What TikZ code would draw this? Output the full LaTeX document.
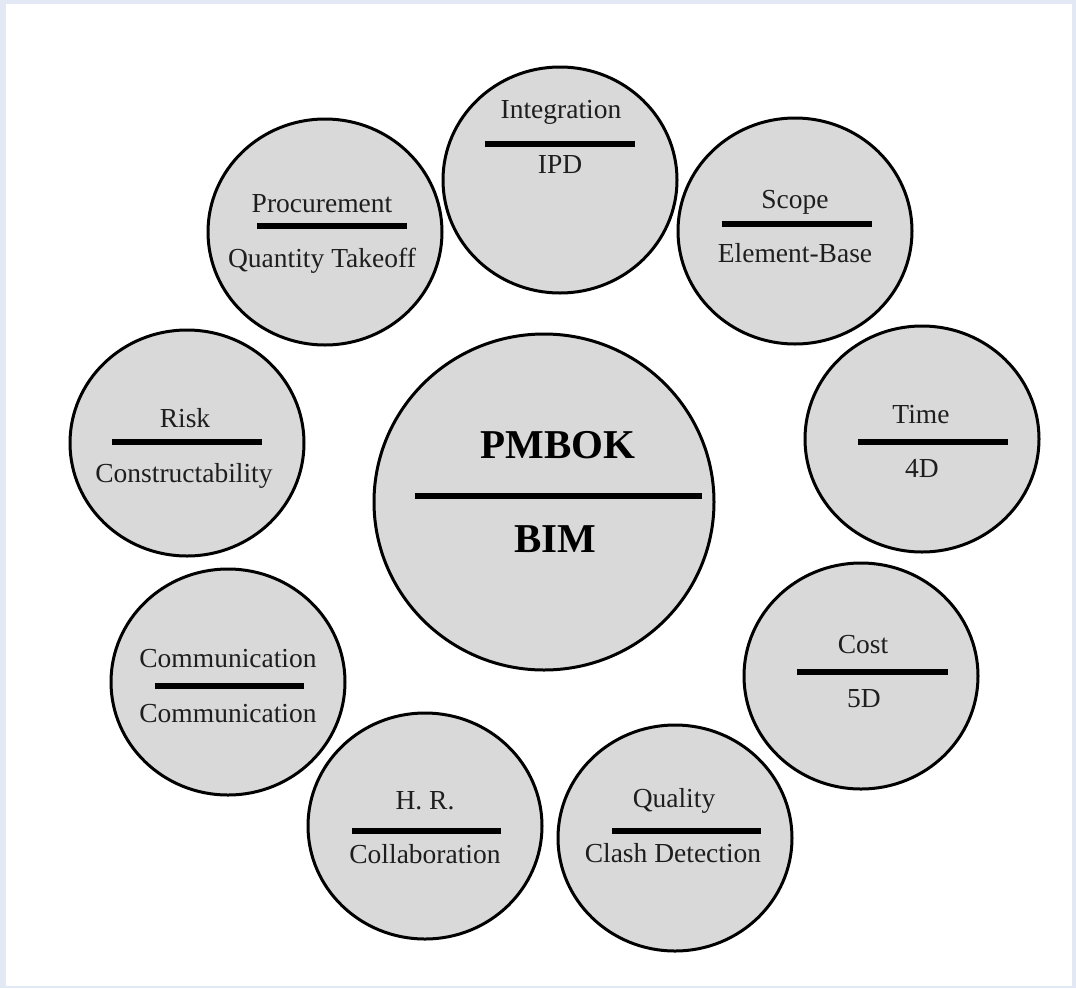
\documentclass[tikz,border=0pt]{standalone}
\usepackage{fontspec}
\setmainfont{Liberation Serif}
\usetikzlibrary{shapes.geometric}
\definecolor{framebg}{HTML}{E2E8F4}
\definecolor{bubblefill}{HTML}{D9D9D9}
\definecolor{inkc}{HTML}{1E1E1E}
\tikzset{
  bubble/.style={ellipse, draw=black, line width=3pt, fill=bubblefill,
    minimum width=234pt, minimum height=226pt, inner sep=0pt},
  hub/.style={ellipse, draw=black, line width=3pt, fill=bubblefill,
    minimum width=340pt, minimum height=336pt, inner sep=0pt},
  bar/.style={line width=6pt, black},
  lbl/.style={anchor=base, inner sep=0pt, text=inkc, font=\fontsize{27.5}{30}\selectfont},
  hublbl/.style={anchor=base, inner sep=0pt, text=black, font=\fontsize{41}{45}\selectfont\bfseries}
}
\begin{document}
\begin{tikzpicture}[x=1pt,y=-1pt]
\useasboundingbox (0,0) rectangle (1076,988);
\fill[framebg] (0,0) rectangle (1076,988);
\fill[white] (6,4) rectangle (1072,986);

% central hub
\node[hub] (hubC) at (544,502) {};
\draw[bar] (415,496) -- (702,496);
\node[hublbl] (hubT) at (558,458) {PMBOK};
\node[hublbl] (hubB) at (555,552) {BIM};

% Integration
\node[bubble] (intC) at (560,180) {};
\draw[bar] (485,144) -- (635,144);
\node[lbl] (intT) at (561,118) {Integration};
\node[lbl] (intB) at (560,173) {IPD};

% Procurement
\node[bubble] (proC) at (325,232) {};
\draw[bar] (257,226) -- (407,226);
\node[lbl] (proT) at (322,212) {Procurement};
\node[lbl] (proB) at (322,267) {Quantity Takeoff};

% Scope
\node[bubble] (scoC) at (795,231) {};
\draw[bar] (722,224) -- (872,224);
\node[lbl] (scoT) at (795,208) {Scope};
\node[lbl] (scoB) at (795,262) {Element-Base};

% Time
\node[bubble] (timC) at (922,439) {};
\draw[bar] (858,442) -- (1008,442);
\node[lbl] (timT) at (921,423) {Time};
\node[lbl] (timB) at (922,477) {4D};

% Cost
\node[bubble] (cosC) at (861,676) {};
\draw[bar] (797,672) -- (948,672);
\node[lbl] (cosT) at (863,653) {Cost};
\node[lbl] (cosB) at (864,707) {5D};

% Quality
\node[bubble] (quaC) at (675,838) {};
\draw[bar] (612,831) -- (761,831);
\node[lbl] (quaT) at (674,807) {Quality};
\node[lbl] (quaB) at (673,862) {Clash Detection};

% H. R.
\node[bubble] (hrC) at (425,826) {};
\draw[bar] (352,831) -- (501,831);
\node[lbl] (hrT) at (425,809) {H. R.};
\node[lbl] (hrB) at (425,863) {Collaboration};

% Communication
\node[bubble] (comC) at (228,682) {};
\draw[bar] (155,686) -- (304,686);
\node[lbl] (comT) at (228,667) {Communication};
\node[lbl] (comB) at (228,722) {Communication};

% Risk
\node[bubble] (risC) at (187,443) {};
\draw[bar] (112,442) -- (262,442);
\node[lbl] (risT) at (185,427) {Risk};
\node[lbl] (risB) at (184,482) {Constructability};
\end{tikzpicture}
\end{document}
